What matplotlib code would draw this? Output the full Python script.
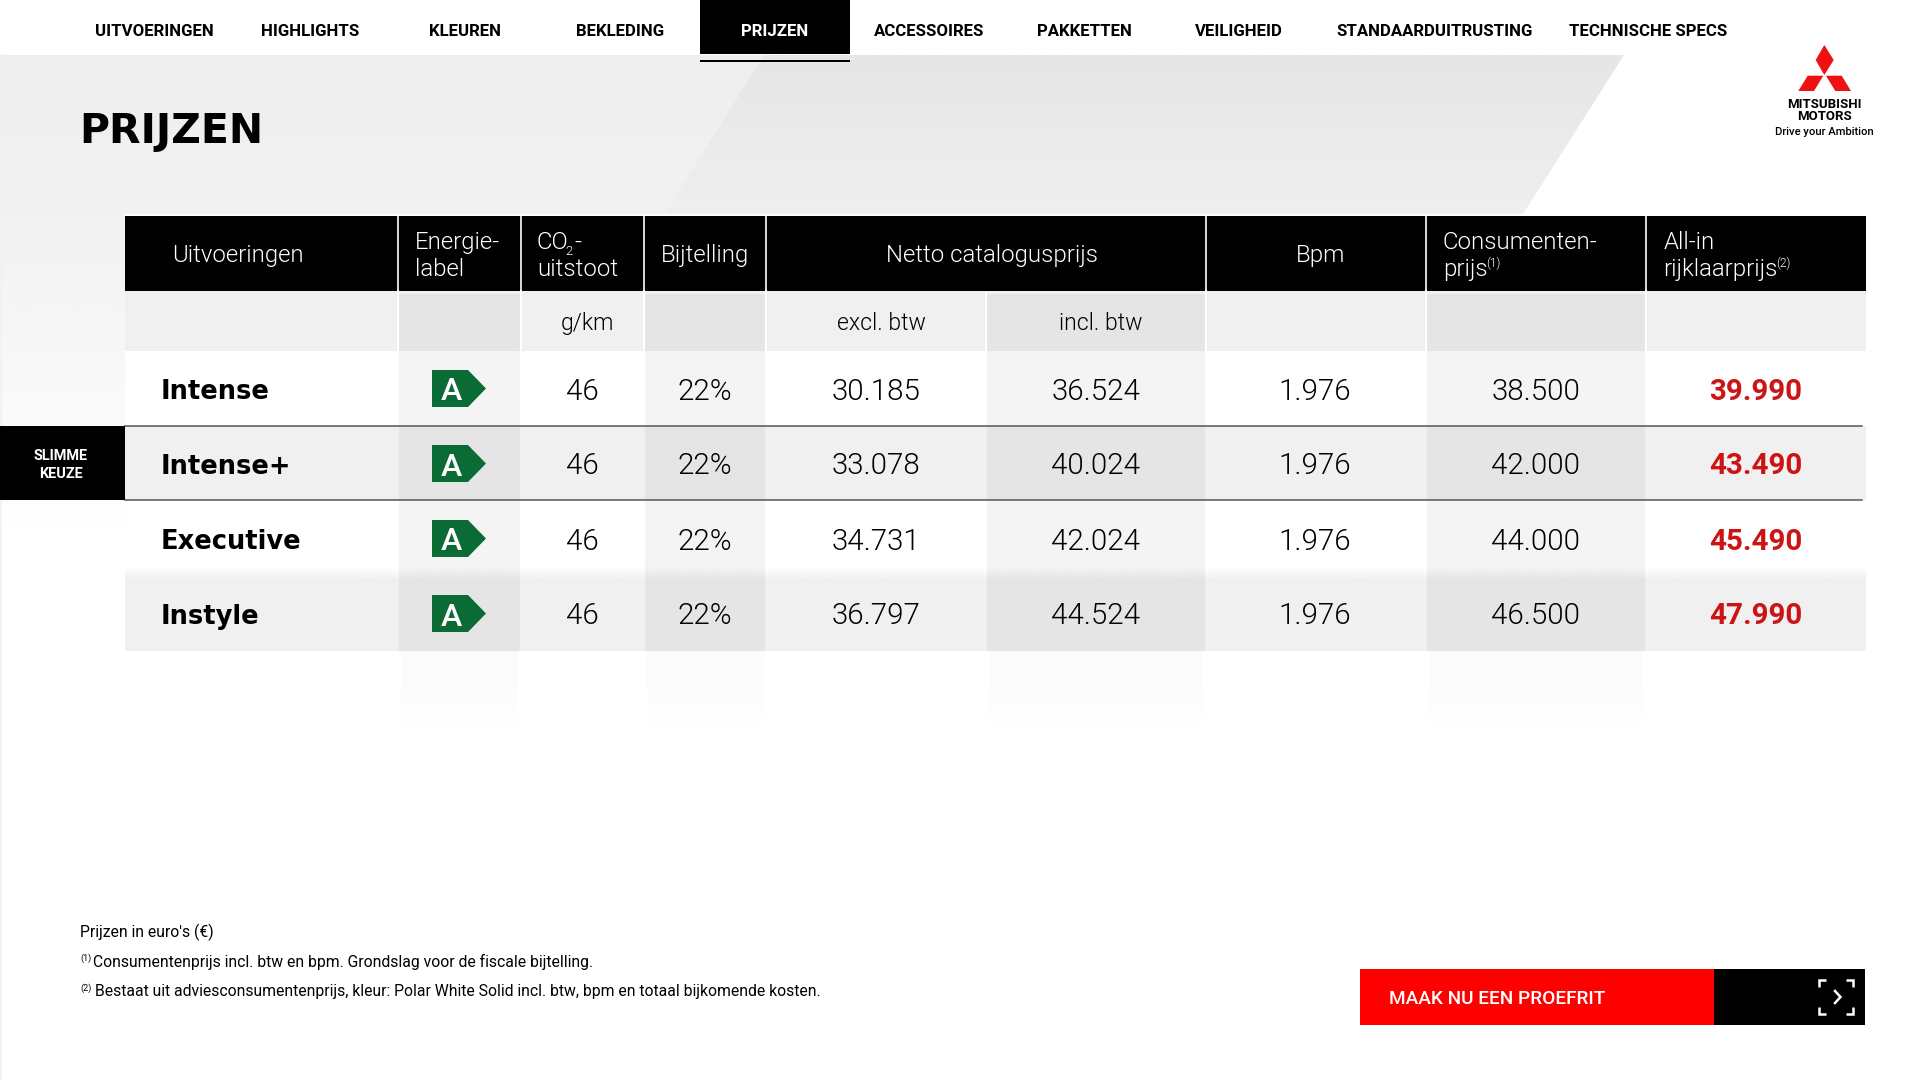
import numpy as np
import matplotlib
matplotlib.use('Agg')
import matplotlib.pyplot as plt
from matplotlib.colors import LinearSegmentedColormap
from matplotlib.patches import Polygon, Rectangle

nav_labels = ['UITVOERINGEN', 'HIGHLIGHTS', 'KLEUREN', 'BEKLEDING', 'PRIJZEN', 'ACCESSOIRES',
              'PAKKETTEN', 'VEILIGHEID', 'STANDAARDUITRUSTING', 'TECHNISCHE SPECS']
models = ['Intense', 'Intense+', 'Executive', 'Instyle']
energy = ['A', 'A', 'A', 'A']
co2 = ['46', '46', '46', '46']
bijtelling = ['22%', '22%', '22%', '22%']
excl_btw = ['30.185', '33.078', '34.731', '36.797']
incl_btw = ['36.524', '40.024', '42.024', '44.524']
bpm = ['1.976', '1.976', '1.976', '1.976']
consument = ['38.500', '42.000', '44.000', '46.500']
allin = ['39.990', '43.490', '45.490', '47.990']

LIGHT = 'Roboto'
HEAVY = 'DejaVu Sans'


def px(size):
    return size * 0.72


def fade(ax, x0, x1, y0, y1, color, a0, a1, z=1):
    # verticaal verloop van a0 (boven) naar a1 (onder)
    img = np.zeros((64, 1, 4))
    img[:, :, :3] = matplotlib.colors.to_rgb(color)
    img[:, 0, 3] = np.linspace(a0, a1, 64)
    ax.imshow(img, extent=(x0, x1, y1, y0), aspect='auto', zorder=z, interpolation='bilinear')


def gray_band(ax, corners, c0, c1, z=1.5):
    cmap = LinearSegmentedColormap.from_list('g', [c0, c1])
    im = ax.imshow(np.linspace(0, 1, 64).reshape(-1, 1), extent=(0, 1640, 214, 55), aspect='auto',
                   cmap=cmap, zorder=z)
    im.set_clip_path(Polygon(corners, transform=ax.transData))


def rect(ax, x0, x1, y0, y1, color, z=2, alpha=None):
    ax.add_patch(Rectangle((x0, y0), x1 - x0, y1 - y0, fc=color, ec='none', zorder=z, alpha=alpha))


def label(ax, x, y, s, size, color='black', ha='center', weight=300, family=LIGHT, z=6):
    return ax.text(x, y, s, fontsize=px(size), color=color, ha=ha, va='center_baseline',
                   fontweight=weight, family=family, zorder=z)


fig = plt.figure(figsize=(19.2, 10.8), dpi=100)
ax = fig.add_axes([0, 0, 1, 1])
ax.axis('off')

# achtergrond
gray_band(ax, [(0, 55), (764, 55), (664, 214), (0, 214)], '#eeeeee', '#f2f2f2')
gray_band(ax, [(764, 55), (1624, 55), (1523, 214), (664, 214)], '#e6e6e6', '#efefef')
fade(ax, 0, 125, 214, 530, '#f2f2f2', 1, 0, z=1)
ax.plot([1, 1], [55, 1080], color='#f2f2f2', lw=1.5, zorder=1)

# navigatie
rect(ax, 700, 850, 0, 54, 'black')
rect(ax, 700, 850, 60, 62, 'black')
nav_x = [154.5, 310, 465, 620, 775, 929.5, 1084, 1239, 1434.5, 1648]
for x, s in zip(nav_x, nav_labels):
    label(ax, x, 30, s, 16.8, 'white' if s == 'PRIJZEN' else 'black', weight='bold', family='Roboto')

label(ax, 79, 127, 'PRIJZEN', 41, ha='left', weight='bold', family=HEAVY)

# logo
logo_red = '#ee1111'
ax.add_patch(Polygon([(1824.3, 45), (1833.7, 60), (1824.3, 75), (1815.7, 60)], fc=logo_red, ec='none'))
ax.add_patch(Polygon([(1798.3, 91), (1807.7, 75.7), (1823.3, 75.7), (1814, 91)], fc=logo_red, ec='none'))
ax.add_patch(Polygon([(1826, 75.7), (1841.7, 75.7), (1851, 91), (1835.3, 91)], fc=logo_red, ec='none'))
label(ax, 1824.5, 103, 'MITSUBISHI', 13.2, weight='bold', family='Roboto')
label(ax, 1824.5, 115, 'MOTORS', 13.2, weight='bold', family='Roboto')
label(ax, 1824.5, 131, 'Drive your Ambition', 11.2, weight='medium', family='Roboto')

# tabel
rect(ax, 125, 1866, 216, 291, 'black', z=2)
rect(ax, 125, 1866, 291, 351, '#f0f0f0', z=2)
rect(ax, 125, 1866, 351, 426, 'white', z=2)
rect(ax, 125, 1866, 426, 500, '#f0f0f0', z=2)
rect(ax, 125, 1866, 500, 567, 'white', z=2)
fade(ax, 125, 1866, 567, 580, '#f0f0f0', 0, 1, z=2.1)
rect(ax, 125, 1866, 580, 651, '#f0f0f0', z=2)

shaded = [(397.5, 520.5), (643.5, 766), (986, 1205.5), (1426, 1646)]
for x0, x1 in shaded:
    rect(ax, x0 + 1, x1 - 1, 294, 651, 'black', z=3, alpha=0.042)
    fade(ax, x0 + 3, x1 - 3, 651, 700, 'black', 0.02, 0.014, z=3)
    fade(ax, x0 + 3, x1 - 3, 700, 735, 'black', 0.014, 0, z=3)

for x in [397.5, 520.5, 643.5, 766, 1205.5, 1426, 1646]:
    ax.plot([x, x], [216, 291], color='white', lw=1.2, zorder=4)
    ax.plot([x, x], [291, 351], color='white', lw=1.5, zorder=4)
ax.plot([986, 986], [294, 351], color='white', lw=1.5, zorder=4)

for y in [425.5, 500]:
    ax.plot([125, 1862], [y, y], color='#555555', lw=1.1, zorder=5)

# kop
hsize = 24
label(ax, 172, 253, 'Uitvoeringen', hsize, 'white', ha='left')
label(ax, 415, 240, 'Energie-', hsize, 'white', ha='left')
label(ax, 415, 267, 'label', hsize, 'white', ha='left')
label(ax, 537, 240, 'CO', hsize, 'white', ha='left')
label(ax, 565, 250, '2', 13, 'white', ha='left')
label(ax, 574, 240, '-', hsize, 'white', ha='left')
label(ax, 537, 267, 'uitstoot', hsize, 'white', ha='left')
label(ax, 705, 253, 'Bijtelling', hsize, 'white')
label(ax, 991.5, 253, 'Netto catalogusprijs', hsize, 'white')
label(ax, 1321, 253, 'Bpm', hsize, 'white')
label(ax, 1443, 240, 'Consumenten-', hsize, 'white', ha='left')
label(ax, 1443, 267, 'prijs', hsize, 'white', ha='left')
label(ax, 1486, 262, '(1)', 12, 'white', ha='left')
label(ax, 1663.5, 240, 'All-in', hsize, 'white', ha='left')
label(ax, 1663.5, 267, 'rijklaarprijs', hsize, 'white', ha='left')
label(ax, 1776, 262, '(2)', 12, 'white', ha='left')

label(ax, 587, 321, 'g/km', 23)
label(ax, 881, 321, 'excl. btw', 23)
label(ax, 1101, 321, 'incl. btw', 23)

# rijen
row_y = [389, 464, 539, 614]
green = '#0b6b35'
value_cols = [(582, co2), (705, bijtelling), (876, excl_btw), (1096, incl_btw), (1315, bpm), (1536, consument)]
for i, y in enumerate(row_y):
    label(ax, 161, y, models[i], 25.7, ha='left', weight='bold', family=HEAVY)
    top, bot = y - 19, y + 18
    ax.add_patch(Polygon([(432, top), (468, top), (486, y - 0.5), (468, bot), (432, bot)],
                         fc=green, ec='none', zorder=5))
    label(ax, 451.5, y, energy[i], 32, 'white', weight='medium')
    for x, vals in value_cols:
        label(ax, x, y - 0.5, vals[i], 29.5)
    label(ax, 1756, y - 0.5, allin[i], 29.5, '#cc1414', weight='bold')

rect(ax, 0, 125, 426, 500, 'black', z=5)
label(ax, 60.5, 454, 'SLIMME', 14.5, 'white', weight='bold', family='Roboto')
label(ax, 60.5, 472.5, 'KEUZE', 14.5, 'white', weight='bold', family='Roboto')

# voetnoten
fsize = 15.75
label(ax, 80, 930, "Prijzen in euro's (€)", fsize, ha='left', weight='normal')
label(ax, 80, 957, '(1)', 9, ha='left', weight='normal')
label(ax, 93, 960, 'Consumentenprijs incl. btw en bpm. Grondslag voor de fiscale bijtelling.', fsize, ha='left',
      weight='normal')
label(ax, 80, 987, '(2)', 9, ha='left', weight='normal')
label(ax, 95, 990, 'Bestaat uit adviesconsumentenprijs, kleur: Polar White Solid incl. btw, bpm en totaal bijkomende kosten.',
      fsize, ha='left', weight='normal')

# knop
rect(ax, 1360, 1714, 969, 1025, '#ff0000')
rect(ax, 1714, 1865, 969, 1025, 'black')
label(ax, 1389, 997, 'MAAK NU EEN PROEFRIT', 19, 'white', ha='left', weight='medium', family='Roboto')
for cx, sx in [(1819, 1), (1853, -1)]:
    for cy, sy in [(980, 1), (1014, -1)]:
        ax.plot([cx + 7 * sx, cx, cx], [cy, cy, cy + 7 * sy], color='white', lw=1.8, zorder=6,
                solid_joinstyle='miter', solid_capstyle='butt')
ax.plot([1835, 1840.5, 1835], [991, 997, 1003], color='white', lw=1.8, zorder=6, solid_joinstyle='miter')

ax.set_xlim(0, 1920)
ax.set_ylim(1080, 0)
fig.savefig('out.png', dpi=100, facecolor='white')
